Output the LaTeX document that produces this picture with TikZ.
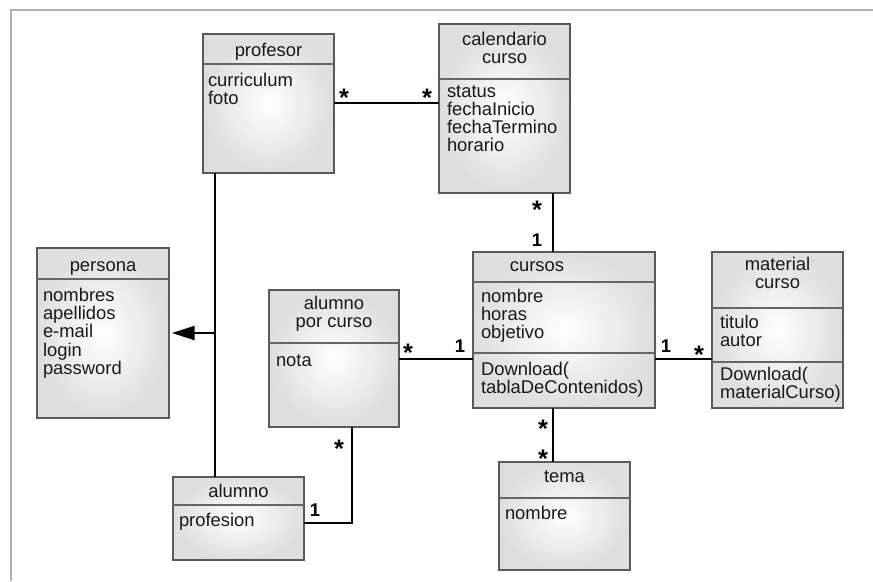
\documentclass[tikz,border=0pt]{standalone}
\usepackage{fontspec}
\setmainfont{Liberation Sans}
\usetikzlibrary{arrows.meta}

% class box from its corner coordinates: name, x1, y1, x2, y2
\newcommand\klass[5]{%
  \node[classbox, minimum width={(#4-#2)*0.75pt}, minimum height={(#5-#3)*0.75pt}]
    (#1) at ({(#2+#4)/2},{(#3+#5)/2}) {};}
% compartment separator inside a class box: name, y
\newcommand\compline[2]{\draw[divline] (#1.west |- 0,#2) -- (#1.east |- 0,#2);}

\begin{document}
\begin{tikzpicture}[x=0.75pt,y=-0.75pt,
  classbox/.style={draw=black!65, line width=1.1pt, inner sep=0pt, outer sep=0pt,
    inner color=white, outer color=black!13},
  divline/.style={draw=black!60, line width=1pt},
  txt/.style={inner sep=0pt, outer sep=0pt, font=\fontsize{13.8}{13.6}\selectfont,
    text=black!90, execute at begin node={\rule{0pt}{11pt}}},
  title/.style={txt, anchor=north, align=center},
  attr/.style={txt, anchor=north west, align=left},
  assoc/.style={draw=black, line width=1.5pt},
  star/.style={inner sep=0pt, outer sep=0pt, anchor=base, font=\fontsize{19}{19}\selectfont\bfseries},
  one/.style={inner sep=0pt, outer sep=0pt, anchor=center, font=\fontsize{13.8}{13.6}\selectfont\bfseries},
  frame/.style={draw=black!30, line width=1.8pt}
]
\useasboundingbox (0,0) rectangle (873,581);
\draw[frame] (11,581) -- (11,10) -- (873,10);

% ---- classes ----
\klass{prof}{203}{34}{334}{173}
\compline{prof}{64}
\node[title] (prof-t) at (268.5,42.3) {profesor};
\node[attr]  (prof-a) at (208,73.3) {curriculum\\foto};

\klass{cal}{439}{24}{570}{193}
\compline{cal}{79}
\node[title] (cal-t) at (504.5,32.3) {calendario\\curso};
\node[attr]  (cal-a) at (447,85.3) {status\\fechaInicio\\fechaTermino\\horario};

\klass{pers}{37}{248}{169}{418}
\compline{pers}{279}
\node[title] (pers-t) at (103,257.3) {persona};
\node[attr]  (pers-a) at (43,288.3) {nombres\\apellidos\\e-mail\\login\\password};

\klass{apc}{269}{290}{399}{427}
\compline{apc}{343}
\node[title] (apc-t) at (334,296.3) {alumno\\por curso};
\node[attr]  (apc-a) at (276,352.3) {nota};

\klass{curs}{473}{252}{655}{408}
\compline{curs}{282}
\compline{curs}{353}
\node[title] (curs-t) at (537,257.3) {cursos};
\node[attr]  (curs-a) at (481,289.3) {nombre\\horas\\objetivo};
\node[attr]  (curs-m) at (481,362.3) {Download(\\tablaDeContenidos)};

\klass{mat}{712}{252}{843}{408}
\compline{mat}{308}
\compline{mat}{362}
\node[title] (mat-t) at (777.5,257.3) {material\\curso};
\node[attr]  (mat-a) at (720,315.3) {titulo\\autor};
\node[attr]  (mat-m) at (720,367.3) {Download(\\materialCurso)};

\klass{alum}{173}{477}{304}{560}
\compline{alum}{505}
\node[title] (alum-t) at (238.5,483.3) {alumno};
\node[attr]  (alum-a) at (179,512.3) {profesion};

\klass{tema}{499}{462}{630}{570}
\compline{tema}{498}
\node[title] (tema-t) at (564.5,468.3) {tema};
\node[attr]  (tema-a) at (505,505.3) {nombre};

% ---- connectors ----
\coordinate (cx) at (553,0);
\coordinate (gx) at (215,0);
\coordinate (ax) at (352,523);

\draw[assoc] (prof.east) -- (prof.east -| cal.west);
\draw[assoc] (cal.south -| cx) -- (curs.north -| cx);
\draw[assoc] (apc.east) -- (apc.east -| curs.west);
\draw[assoc] (apc.east -| curs.east) -- (apc.east -| mat.west);
\draw[assoc] (curs.south -| cx) -- (tema.north -| cx);
\draw[assoc] (apc.south -| ax) -- (ax) -- (ax -| alum.east);

% generalization towards persona
\draw[assoc] (prof.south -| gx) -- (alum.north -| gx);
\draw[assoc, -{Triangle[length=17pt, width=10.5pt]}, shorten >=2.2pt]
  (pers.east -| gx) -- (pers.east);

% ---- multiplicities ----
\node[star] (m1) at (344,107) {*};
\node[star] (m2) at (427,107) {*};
\node[star] (m3) at (537,218) {*};
\node[one]  (m4) at (537,240) {1};
\node[star] (m5) at (408,361) {*};
\node[one]  (m6) at (460,346) {1};
\node[one]  (m7) at (666,346) {1};
\node[star] (m8) at (699,363) {*};
\node[star] (m9) at (543,437) {*};
\node[star] (m10) at (543,467) {*};
\node[star] (m11) at (339,457) {*};
\node[one]  (m12) at (315,510) {1};
\end{tikzpicture}
\end{document}
